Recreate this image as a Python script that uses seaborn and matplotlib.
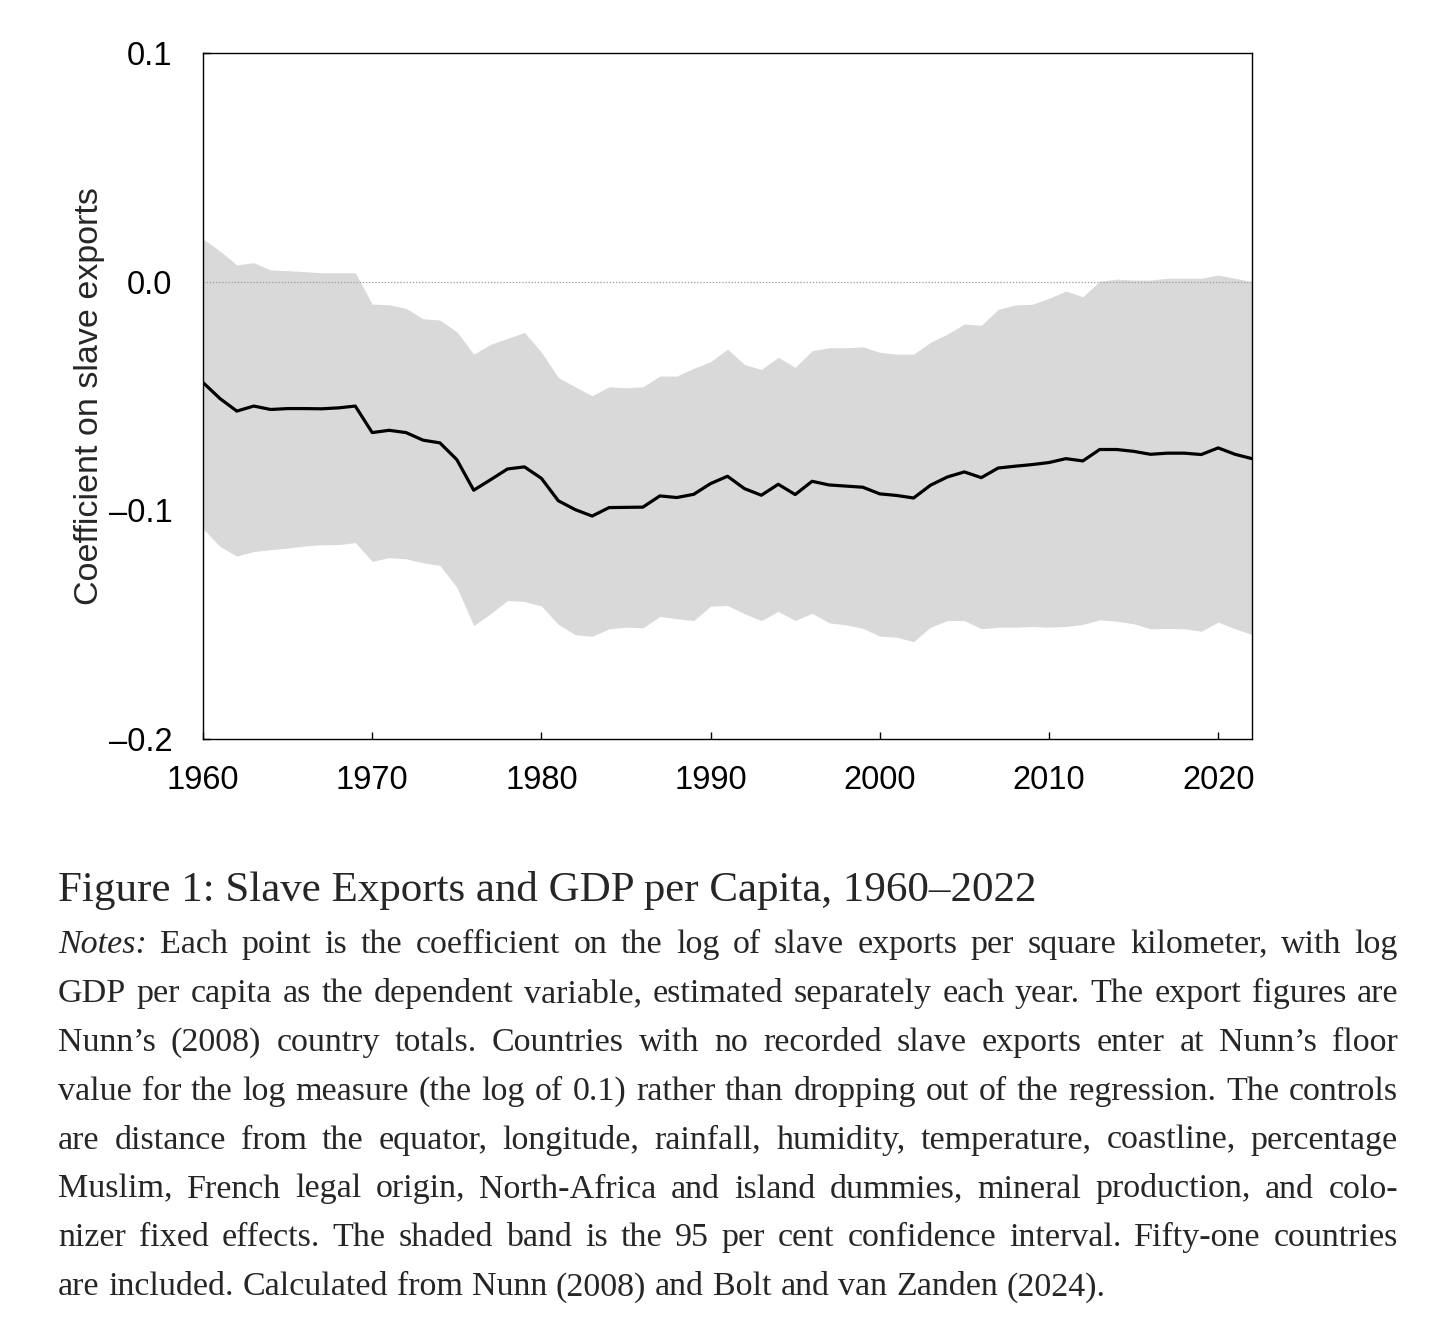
import numpy as np
import pandas as pd
import seaborn as sns
import matplotlib
matplotlib.use("Agg")
import matplotlib.pyplot as plt

# data
years = np.arange(1960, 2023)

coef = [-0.0441, -0.0511, -0.0566, -0.0544, -0.0559, -0.0555, -0.0555, -0.0556, -0.0552, -0.0544,
        -0.0660, -0.0650, -0.0660, -0.0693, -0.0705, -0.0778, -0.0912, -0.0866, -0.0819, -0.0810,
        -0.0860, -0.0958, -0.0997, -0.1025, -0.0988, -0.0987, -0.0986, -0.0937, -0.0944, -0.0930,
        -0.0883, -0.0851, -0.0905, -0.0934, -0.0886, -0.0931, -0.0873, -0.0889, -0.0894, -0.0899,
        -0.0928, -0.0935, -0.0946, -0.0890, -0.0854, -0.0832, -0.0857, -0.0815, -0.0807, -0.0800,
        -0.0791, -0.0774, -0.0784, -0.0734, -0.0734, -0.0742, -0.0755, -0.0750, -0.0750, -0.0756,
        -0.0727, -0.0755, -0.0774]

upper = [0.0187, 0.0134, 0.0073, 0.0083, 0.0051, 0.0048, 0.0044, 0.0039, 0.0039, 0.0039,
         -0.0098, -0.0101, -0.0117, -0.0162, -0.0168, -0.0219, -0.0317, -0.0274, -0.0248, -0.0222,
         -0.0308, -0.0419, -0.0460, -0.0499, -0.0460, -0.0464, -0.0460, -0.0413, -0.0413, -0.0379,
         -0.0350, -0.0295, -0.0362, -0.0384, -0.0331, -0.0375, -0.0302, -0.0289, -0.0289, -0.0285,
         -0.0309, -0.0317, -0.0317, -0.0265, -0.0229, -0.0185, -0.0191, -0.0121, -0.0102, -0.0099,
         -0.0073, -0.0041, -0.0066, 0.0002, 0.0011, 0.0007, 0.0007, 0.0015, 0.0015, 0.0015,
         0.0029, 0.0015, 0.0000]

lower = [-0.1080, -0.1158, -0.1200, -0.1180, -0.1172, -0.1165, -0.1156, -0.1150, -0.1150, -0.1141,
         -0.1223, -0.1207, -0.1212, -0.1229, -0.1241, -0.1336, -0.1504, -0.1452, -0.1394, -0.1399,
         -0.1418, -0.1499, -0.1544, -0.1551, -0.1518, -0.1511, -0.1514, -0.1464, -0.1474, -0.1482,
         -0.1419, -0.1416, -0.1452, -0.1482, -0.1442, -0.1482, -0.1450, -0.1492, -0.1501, -0.1516,
         -0.1550, -0.1555, -0.1574, -0.1511, -0.1482, -0.1482, -0.1518, -0.1511, -0.1511, -0.1508,
         -0.1511, -0.1508, -0.1499, -0.1479, -0.1485, -0.1496, -0.1518, -0.1516, -0.1518, -0.1529,
         -0.1489, -0.1518, -0.1543]

xticks = [1960, 1970, 1980, 1990, 2000, 2010, 2020]
yticks = [-0.2, -0.1, 0.0, 0.1]
ytick_labels = ["\u20130.2", "\u20130.1", "0.0", "0.1"]

title = "Figure 1: Slave Exports and GDP per Capita, 1960\u20132022"
notes = [
    "Notes: Each point is the coefficient on the log of slave exports per square kilometer, with log",
    "GDP per capita as the dependent variable, estimated separately each year. The export figures are",
    "Nunn\u2019s (2008) country totals. Countries with no recorded slave exports enter at Nunn\u2019s floor",
    "value for the log measure (the log of 0.1) rather than dropping out of the regression. The controls",
    "are distance from the equator, longitude, rainfall, humidity, temperature, coastline, percentage",
    "Muslim, French legal origin, North-Africa and island dummies, mineral production, and colo-",
    "nizer fixed effects. The shaded band is the 95 per cent confidence interval. Fifty-one countries",
    "are included. Calculated from Nunn (2008) and Bolt and van Zanden (2024).",
]

df = pd.DataFrame({"year": years, "coef": coef, "lo": lower, "hi": upper})

sns.set_style("ticks")
plt.rcParams["font.family"] = ["Liberation Sans", "DejaVu Sans"]

W, H = 1456, 1337
fig = plt.figure(figsize=(W / 100, H / 100), dpi=100)
ax = fig.add_axes([203 / W, 1 - 739 / H, (1252 - 203) / W, (739 - 53) / H])

# band, zero line, coefficient line
ax.fill_between(df["year"], df["lo"], df["hi"], color="#d9d9d9", lw=0, zorder=1)
ax.axhline(0, color="#9a9a9a", lw=0.9, ls=(0, (1, 1.5)), zorder=2)
sns.lineplot(data=df, x="year", y="coef", color="black", lw=2.3, ax=ax, zorder=3)

ax.set_xlim(1960, 2022)
ax.set_ylim(-0.2, 0.1)
ax.set_xticks(xticks)
ax.set_yticks(yticks)
ax.set_yticklabels(ytick_labels)
ax.tick_params(direction="in", length=5, width=1, labelsize=23.5, colors="black")
ax.tick_params(axis="x", pad=19)
ax.tick_params(axis="y", pad=22)
ax.set_xlabel("")
ax.set_ylabel("Coefficient on slave exports", fontsize=24.5, labelpad=3)
for s in ax.spines.values():
    s.set_linewidth(1.0)
    s.set_color("black")

# caption, justified like the source
serif = ["Liberation Serif", "DejaVu Serif"]
fig.text(58 / W, 1 - 901 / H, title, family=serif, size=31, va="baseline", ha="left")

r = fig.canvas.get_renderer()
x0, x1 = 58, 1398
size = 24.5
for i, line in enumerate(notes):
    y = 953 + i * 48.9
    words = line.split(" ")
    texts = []
    for j, w in enumerate(words):
        style = "italic" if (i == 0 and j == 0) else "normal"
        texts.append(fig.text(0, 1 - y / H, w, family=serif, size=size, style=style,
                              va="baseline", ha="left"))
    widths = [t.get_window_extent(r).width for t in texts]
    if i == len(notes) - 1:
        gap = 0.26 * size * 100 / 72
    else:
        gap = (x1 - x0 - sum(widths)) / (len(words) - 1)
    x = x0
    for t, w in zip(texts, widths):
        t.set_x(x / W)
        x += w + gap

fig.savefig("out.png", dpi=100)
